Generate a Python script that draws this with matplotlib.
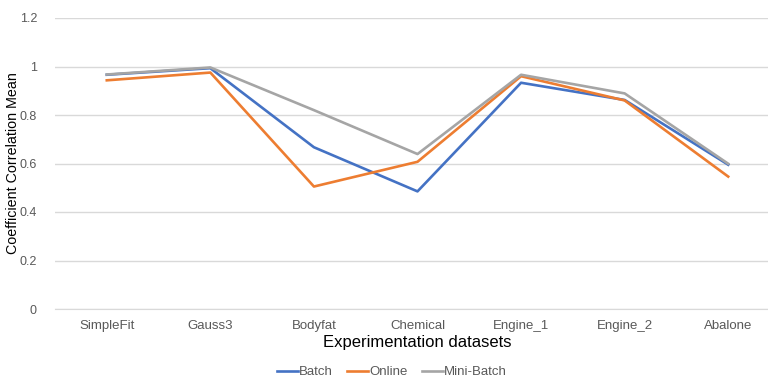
import numpy as np
import matplotlib.pyplot as plt

datasets = ["SimpleFit", "Gauss3", "Bodyfat", "Chemical", "Engine_1", "Engine_2", "Abalone"]
batch = [0.966, 0.993, 0.667, 0.485, 0.933, 0.862, 0.595]
online = [0.943, 0.975, 0.505, 0.607, 0.960, 0.860, 0.546]
mini_batch = [0.967, 0.996, 0.820, 0.639, 0.966, 0.889, 0.599]
yticks = [0, 0.2, 0.4, 0.6, 0.8, 1.0, 1.2]

plt.rcParams['font.family'] = ['Liberation Sans', 'DejaVu Sans']

fig = plt.figure(figsize=(7.68, 3.79), dpi=100)
ax = fig.add_axes([55/768, 1 - 309/379, 725/768, 291/379])

x = np.arange(len(datasets))
ax.plot(x, batch, color='#4472C4', lw=1.9, label='Batch', zorder=3)
ax.plot(x, online, color='#ED7D31', lw=1.9, label='Online', zorder=3)
ax.plot(x, mini_batch, color='#A5A5A5', lw=1.9, label='Mini-Batch', zorder=3)

ax.set_xlim(-0.5, len(datasets) - 0.5)
ax.set_ylim(0, 1.2)
ax.set_yticks(yticks)
ax.set_yticklabels(['{:g}'.format(v) for v in yticks])
ax.set_xticks(x)
ax.set_xticklabels(datasets)
ax.tick_params(length=0, labelsize=9.5, labelcolor='#595959')
ax.tick_params(axis='y', labelsize=9, pad=13)
ax.tick_params(axis='x', pad=8)
ax.grid(axis='y', color='#D9D9D9', lw=1)
for s in ['top', 'right', 'left']:
    ax.spines[s].set_visible(False)
ax.spines['bottom'].set_color('#D9D9D9')

ax.set_xlabel('Experimentation datasets', fontsize=12, color='#000000', labelpad=2)
ax.set_ylabel('Coefficient Correlation Mean', fontsize=10.3, color='#000000')
ax.yaxis.set_label_coords(-0.048, 0.5)

fig.legend(loc='center', bbox_to_anchor=(0.51, 1 - 372/379), ncol=3, frameon=False,
           fontsize=9.5, handlelength=1.6, handletextpad=0.05, columnspacing=1.1,
           labelcolor='#595959')

fig.savefig('out.png', dpi=100)
